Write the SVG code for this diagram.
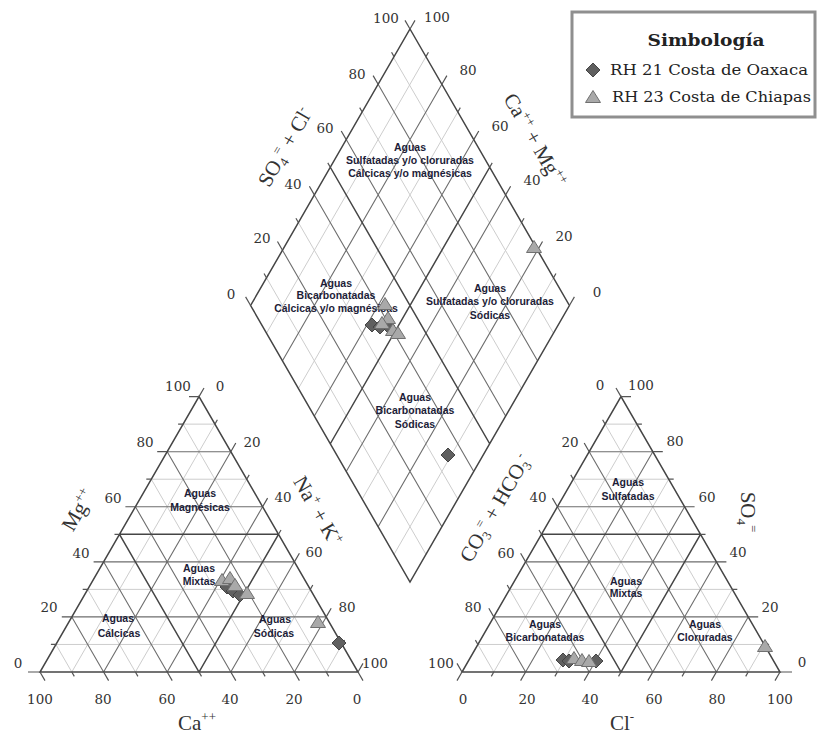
<svg xmlns="http://www.w3.org/2000/svg" xmlns:xlink="http://www.w3.org/1999/xlink" width="817" height="736" viewBox="0 0 817 736">
<style>
.lt{fill:none;stroke:#cdcdcd;stroke-width:1}
.md{fill:none;stroke:#6e6e6e;stroke-width:1.1}
.dk{fill:none;stroke:#454545;stroke-width:1.5}
.tk{fill:none;stroke:#555;stroke-width:1.2}
.num{font-family:"DejaVu Serif","Liberation Serif",serif;font-size:13.5px;fill:#333;text-anchor:middle;dominant-baseline:central}
.ax{font-family:"Liberation Serif","DejaVu Serif",serif;font-size:21px;fill:#333;text-anchor:middle}
.rg{font-family:"Liberation Sans",Arial,sans-serif;font-size:10.5px;font-weight:bold;fill:#1d1d38;text-anchor:middle}
.lg{font-family:"DejaVu Serif","Liberation Serif",serif;fill:#222}
.pd{fill:#606060;stroke:#454545;stroke-width:1}
.pt{fill:#a9a9a9;stroke:#707070;stroke-width:1}
</style>
<defs>
<path id="dm" d="M0,-7L7,0L0,7L-7,0Z"/>
<path id="tr" d="M0,-6.5L7.5,5.5H-7.5Z"/>
<g id="triL">
<path class="lt" d="M15.9,-27.54H302.1M47.7,-82.62H270.3M111.3,-192.78H206.7M143.1,-247.86H174.9M31.8,0L174.9,-247.86M95.4,0L206.7,-192.78M222.6,0L270.3,-82.62M286.2,0L302.1,-27.54M31.8,0L15.9,-27.54M95.4,0L47.7,-82.62M222.6,0L111.3,-192.78M286.2,0L143.1,-247.86"/>
<path class="md" d="M31.8,-55.08H286.2M63.6,-110.16H254.4M95.4,-165.24H222.6M127.2,-220.32H190.8M63.6,0L190.8,-220.32M127.2,0L222.6,-165.24M190.8,0L254.4,-110.16M254.4,0L286.2,-55.08M63.6,0L31.8,-55.08M127.2,0L63.6,-110.16M190.8,0L95.4,-165.24M254.4,0L127.2,-220.32"/>
<path class="dk" d="M79.5,-137.7H238.5M79.5,-137.7L159,0L238.5,-137.7M0,0H318L159,-275.4Z"/>
<path class="tk" d="M0,0h-12M15.9,-27.54h-5M31.8,-55.08h-10M47.7,-82.62h-5M63.6,-110.16h-10M79.5,-137.7h-5M95.4,-165.24h-10M111.3,-192.78h-5M127.2,-220.32h-10M143.1,-247.86h-5M159,-275.4h-10
M159,-275.4l5,-8.66M174.9,-247.86l2.5,-4.33M190.8,-220.32l5,-8.66M206.7,-192.78l2.5,-4.33M222.6,-165.24l5,-8.66M238.5,-137.7l2.5,-4.33M254.4,-110.16l5,-8.66M270.3,-82.62l2.5,-4.33M286.2,-55.08l5,-8.66M302.1,-27.54l2.5,-4.33M318,0l5,-8.66
M0,0l5,8.66M31.8,0l2.5,4.33M63.6,0l5,8.66M95.4,0l2.5,4.33M127.2,0l5,8.66M159,0l2.5,4.33M190.8,0l5,8.66M222.6,0l2.5,4.33M254.4,0l5,8.66M286.2,0l2.5,4.33M318,0l5,8.66"/>
</g>
</defs>
<rect width="817" height="736" fill="#fff"/>

<g id="diamond">
<path class="lt" d="M394.06,554.35L553.46,277.85M362.18,499.05L521.58,222.55M298.42,388.45L457.82,111.95M266.54,333.15L425.94,56.65M425.94,554.35L266.54,277.85M457.82,499.05L298.42,222.55M521.58,388.45L362.18,111.95M553.46,333.15L393.06,56.65"/>
<path class="md" d="M378.12,526.7L537.52,250.2M346.24,471.4L505.64,194.9M314.36,416.1L473.76,139.6M282.48,360.8L441.88,84.3M441.88,526.7L282.48,250.2M473.76,471.4L314.36,194.9M505.64,416.1L346.24,139.6M537.52,360.8L378.12,84.3"/>
<path class="dk" d="M330.3,443.75L489.7,167.25M489.7,443.75L330.3,167.25M410,29L569.4,305.5L410,582L250.6,305.5Z"/>
<path class="tk" d="M250.6,305.5l-5,-8.66M266.54,277.85l-2.5,-4.33M282.48,250.2l-5,-8.66M298.42,222.55l-2.5,-4.33M314.36,194.9l-5,-8.66M330.3,167.25l-2.5,-4.33M346.24,139.6l-5,-8.66M362.18,111.95l-2.5,-4.33M378.12,84.3l-5,-8.66M394.06,56.65l-2.5,-4.33M410,29l-5,-8.66
M569.4,305.5l5,-8.66M553.46,277.85l2.5,-4.33M537.52,250.2l5,-8.66M521.58,222.55l2.5,-4.33M505.64,194.9l5,-8.66M489.7,167.25l2.5,-4.33M473.76,139.6l5,-8.66M457.82,111.95l2.5,-4.33M441.88,84.3l5,-8.66M425.94,56.65l2.5,-4.33M410,29l5,-8.66"/>
<text class="num" x="386" y="18">100</text><text class="num" x="357" y="74">80</text><text class="num" x="325" y="128">60</text><text class="num" x="293" y="184">40</text><text class="num" x="262" y="238">20</text><text class="num" x="231" y="294">0</text>
<text class="num" x="437" y="17">100</text><text class="num" x="468" y="70">80</text><text class="num" x="500" y="126">60</text><text class="num" x="532" y="180">40</text><text class="num" x="564" y="236">20</text><text class="num" x="597" y="292">0</text>
<g transform="translate(285,147) rotate(-60)"><text class="ax" x="0" y="7">SO<tspan font-size="13" dy="4">4</tspan><tspan font-size="13" dy="-12">=</tspan><tspan dy="8"> + Cl</tspan><tspan font-size="13" dy="-8">-</tspan></text></g>
<g transform="translate(535,140) rotate(60)"><text class="ax" x="0" y="7">Ca<tspan font-size="13" dy="-8">++</tspan><tspan dy="8"> + Mg</tspan><tspan font-size="13" dy="-8">++</tspan></text></g>
<text class="rg" x="410" y="151">Aguas</text><text class="rg" x="410" y="164">Sulfatadas y/o cloruradas</text><text class="rg" x="410" y="177">Cálcicas y/o magnésicas</text>
<text class="rg" x="336" y="287">Aguas</text><text class="rg" x="336" y="299">Bicarbonatadas</text><text class="rg" x="336" y="312">Cálcicas y/o magnésicas</text>
<text class="rg" x="490" y="292">Aguas</text><text class="rg" x="490" y="305">Sulfatadas y/o cloruradas</text><text class="rg" x="490" y="319">Sódicas</text>
<text class="rg" x="415" y="401">Aguas</text><text class="rg" x="415" y="414">Bicarbonatadas</text><text class="rg" x="415" y="428">Sódicas</text>
</g>

<g id="left-triangle">
<use xlink:href="#triL" transform="translate(40,672)"/>
<text class="num" x="178" y="386">100</text><text class="num" x="145" y="442">80</text><text class="num" x="113" y="498">60</text><text class="num" x="81" y="553">40</text><text class="num" x="49" y="607">20</text><text class="num" x="18" y="663">0</text>
<text class="num" x="220" y="386">0</text><text class="num" x="252" y="442">20</text><text class="num" x="283" y="497">40</text><text class="num" x="314" y="552">60</text><text class="num" x="347" y="607">80</text><text class="num" x="375" y="663">100</text>
<text class="num" x="40" y="699">100</text><text class="num" x="103" y="699">80</text><text class="num" x="167" y="699">60</text><text class="num" x="230" y="699">40</text><text class="num" x="294" y="699">20</text><text class="num" x="357" y="699">0</text>
<g transform="translate(78,510) rotate(-60)"><text class="ax" x="0" y="7">Mg<tspan font-size="13" dy="-8">++</tspan></text></g>
<g transform="translate(318,511) rotate(60)"><text class="ax" x="0" y="7">Na<tspan font-size="13" dy="-8">+</tspan><tspan dy="8"> + K</tspan><tspan font-size="13" dy="-8">+</tspan></text></g>
<text class="ax" x="197" y="730">Ca<tspan font-size="13" dy="-9">++</tspan></text>
<text class="rg" x="200" y="497">Aguas</text><text class="rg" x="200" y="511">Magnésicas</text>
<text class="rg" x="199" y="572">Aguas</text><text class="rg" x="199" y="585">Mixtas</text>
<text class="rg" x="118" y="622">Aguas</text><text class="rg" x="119" y="637">Cálcicas</text>
<text class="rg" x="275" y="623">Aguas</text><text class="rg" x="274" y="637">Sódicas</text>
</g>

<g id="right-triangle">
<use xlink:href="#triL" transform="translate(780,672) scale(-1,1)"/>
<text class="num" x="600" y="385">0</text><text class="num" x="570" y="442">20</text><text class="num" x="538" y="497">40</text><text class="num" x="506" y="553">60</text><text class="num" x="473" y="607">80</text><text class="num" x="441" y="663">100</text>
<text class="num" x="641" y="385">100</text><text class="num" x="675" y="441">80</text><text class="num" x="707" y="497">60</text><text class="num" x="738" y="552">40</text><text class="num" x="770" y="607">20</text><text class="num" x="802" y="662">0</text>
<text class="num" x="463" y="699">0</text><text class="num" x="527" y="699">20</text><text class="num" x="590" y="699">40</text><text class="num" x="654" y="699">60</text><text class="num" x="717" y="699">80</text><text class="num" x="780" y="699">100</text>
<g transform="translate(495,508) rotate(-60)"><text class="ax" x="0" y="7">CO<tspan font-size="13" dy="4">3</tspan><tspan font-size="13" dy="-12">=</tspan><tspan dy="8"> + HCO</tspan><tspan font-size="13" dy="4">3</tspan><tspan font-size="13" dy="-12">-</tspan></text></g>
<g transform="translate(748,512) rotate(90)"><text class="ax" x="0" y="7">SO<tspan font-size="13" dy="4">4</tspan><tspan font-size="13" dy="-12">=</tspan></text></g>
<text class="ax" x="622" y="730">Cl<tspan font-size="13" dy="-9">-</tspan></text>
<text class="rg" x="628" y="486">Aguas</text><text class="rg" x="628" y="500">Sulfatadas</text>
<text class="rg" x="626" y="585">Aguas</text><text class="rg" x="626" y="597">Mixtas</text>
<text class="rg" x="545" y="628">Aguas</text><text class="rg" x="545" y="641">Bicarbonatadas</text>
<text class="rg" x="705" y="628">Aguas</text><text class="rg" x="705" y="641">Cloruradas</text>
</g>

<g id="points">
<use xlink:href="#dm" class="pd" x="372" y="325"/><use xlink:href="#dm" class="pd" x="380" y="327"/><use xlink:href="#dm" class="pd" x="388" y="326"/>
<use xlink:href="#tr" class="pt" x="385" y="304"/><use xlink:href="#tr" class="pt" x="388" y="318"/><use xlink:href="#tr" class="pt" x="382" y="323"/><use xlink:href="#tr" class="pt" x="393" y="330"/><use xlink:href="#tr" class="pt" x="398" y="333"/>
<use xlink:href="#dm" class="pd" x="448" y="455"/>
<use xlink:href="#tr" class="pt" x="534" y="247"/>
<use xlink:href="#dm" class="pd" x="227" y="587"/><use xlink:href="#dm" class="pd" x="233" y="591"/><use xlink:href="#dm" class="pd" x="240" y="595"/>
<use xlink:href="#tr" class="pt" x="222" y="580"/><use xlink:href="#tr" class="pt" x="230" y="578"/><use xlink:href="#tr" class="pt" x="235" y="585"/><use xlink:href="#tr" class="pt" x="247" y="593"/>
<use xlink:href="#tr" class="pt" x="318" y="622"/>
<use xlink:href="#dm" class="pd" x="339" y="643"/>
<use xlink:href="#dm" class="pd" x="563" y="660"/><use xlink:href="#dm" class="pd" x="569" y="661"/><use xlink:href="#dm" class="pd" x="596" y="661"/>
<use xlink:href="#tr" class="pt" x="574" y="658"/><use xlink:href="#tr" class="pt" x="582" y="660"/><use xlink:href="#tr" class="pt" x="589" y="661"/>
<use xlink:href="#tr" class="pt" x="765" y="646"/>
</g>

<g id="legend">
<rect x="572" y="12" width="243" height="105" fill="#fff" stroke="#8f8f8f" stroke-width="3"/>
<text class="lg" x="706" y="46" font-size="17" font-weight="bold" text-anchor="middle" textLength="117" lengthAdjust="spacingAndGlyphs">Simbología</text>
<use xlink:href="#dm" class="pd" x="593" y="70"/>
<text class="lg" x="610" y="75" font-size="14" textLength="198" lengthAdjust="spacingAndGlyphs">RH 21 Costa de Oaxaca</text>
<use xlink:href="#tr" class="pt" x="593" y="97"/>
<text class="lg" x="612" y="102" font-size="14" textLength="199" lengthAdjust="spacingAndGlyphs">RH 23 Costa de Chiapas</text>
</g>
</svg>
